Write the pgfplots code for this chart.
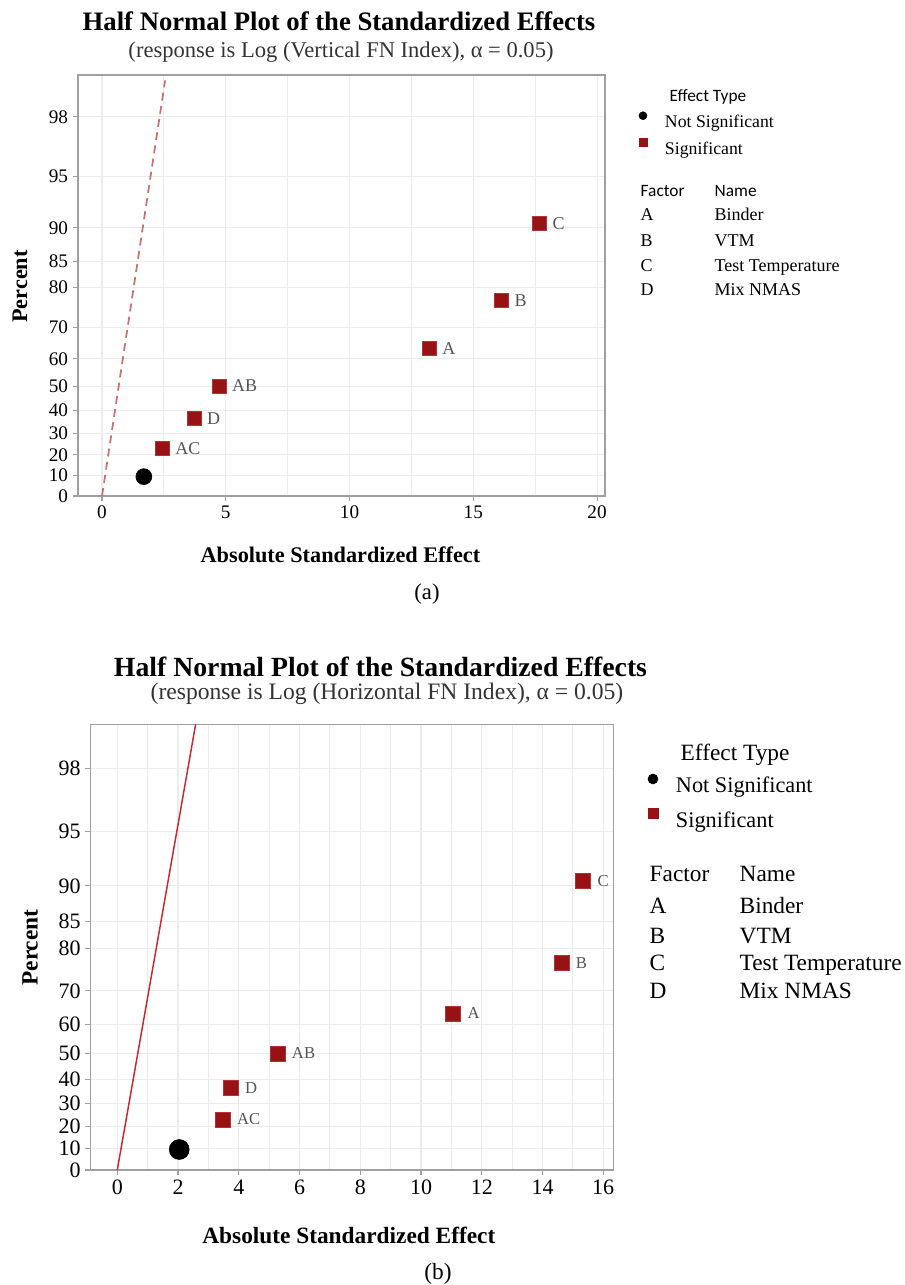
\documentclass[border=0pt]{standalone}
\usepackage{pgfplots}
\usepackage{pgfplotstable}
\pgfplotsset{compat=1.18}
\usepackage{fontspec}
\setmainfont{Liberation Serif}
\newfontfamily\sansf{Carlito}
\newcommand{\fs}[1]{\fontsize{#1}{#1}\selectfont}
\definecolor{sigred}{RGB}{150,18,20}
\definecolor{sigedge}{RGB}{185,50,50}
\definecolor{gridc}{RGB}{236,236,236}
\definecolor{boxc}{RGB}{160,160,160}
\definecolor{reflineA}{RGB}{205,110,110}
\definecolor{reflineB}{RGB}{200,40,45}
\definecolor{labc}{RGB}{85,85,85}

% top chart (a): x = |standardized effect|, y = half-normal score
\pgfplotstableread{
x y lab
2.44 0.2925 AC
3.72 0.4745 D
4.73 0.6745 AB
13.22 0.9063 A
16.14 1.2006 B
17.68 1.6720 C
}\sigA
\pgfplotstableread{
x y
1.69 0.1188
}\nsA
% bottom chart (b)
\pgfplotstableread{
x y lab
3.47 0.2925 AC
3.74 0.4745 D
5.28 0.6745 AB
11.06 0.9063 A
14.63 1.2006 B
15.34 1.6720 C
}\sigB
\pgfplotstableread{
x y
2.04 0.1188
}\nsB

\pgfplotsset{hn/.style={
  scale only axis,
  axis line style={boxc, line width=1.1pt},
  tick align=outside, tick pos=left,
  major tick length=4pt, minor tick length=0pt,
  every tick/.style={boxc, line width=0.8pt},
  grid=both,
  major grid style={gridc, line width=0.8pt},
  minor grid style={gridc, line width=0.8pt},
  ymin=0, ymax=2.583,
  ytick={0,0.1257,0.2533,0.3853,0.5244,0.6745,0.8416,1.0364,1.2816,1.4395,1.6449,1.9600,2.3263},
  yticklabels={0,10,20,30,40,50,60,70,80,85,90,95,98},
  /pgf/number format/assume math mode=true,
  legend cell align=left,
}}

\begin{document}
\begin{tikzpicture}
\path[use as bounding box] (0pt,0pt) rectangle (678.75pt,-963.75pt);

% ---------------- (a) ----------------
\begin{axis}[hn,
  at={(58.5pt,-372pt)}, anchor=south west,
  width=395.25pt, height=315.75pt,
  xmin=-0.97, xmax=20.32,
  xtick={0,5,10,15,20}, minor x tick num=1,
  tick label style={font=\fs{14.4}},
  xlabel={Absolute Standardized Effect},
  ylabel={Percent},
  label style={font=\fs{16.7}\bfseries},
  xlabel style={at={(axis description cs:0.498,-0.159)}, anchor=base},
  ylabel style={at={(axis description cs:-0.110,0.4976)}, anchor=center},
  legend style={at={(axis description cs:1.0645,0.9128)}, anchor=north west,
    draw=none, fill=none, inner sep=0pt, outer sep=0pt,
    column sep=13.5pt, row sep=5.75pt,
    nodes={inner sep=0pt, text height=10pt, text depth=3pt},
    font=\fs{13.3}},
  legend image code/.code={\draw[#1] plot coordinates {(0pt,5pt)};},
]
\addplot[reflineA, line width=1.3pt, dash pattern=on 6pt off 4pt, forget plot] coordinates {(0,0) (2.55,2.55)};
\addplot[only marks, mark=*, mark size=6pt, black, forget plot] table[x=x,y=y] {\nsA};
\addplot[only marks, mark=square*, mark size=5.25pt, mark options={fill=sigred, draw=sigedge, line width=0.5pt},
  nodes near coords, point meta=explicit symbolic,
  every node near coord/.append style={anchor=west, xshift=9.5pt, inner sep=0pt, font=\fs{13.5}, text=labc},
  forget plot] table[x=x,y=y,meta=lab] {\sigA};
\addlegendimage{only marks, mark=*, mark size=3pt, black}
\addlegendentry{Not Significant}
\addlegendimage{only marks, mark=square*, mark size=3pt, sigred}
\addlegendentry{Significant}
\end{axis}

% ---------------- (b) ----------------
\begin{axis}[hn,
  at={(68pt,-877.5pt)}, anchor=south west,
  width=391.95pt, height=334.3pt,
  xmin=-0.876, xmax=16.33, ymax=2.58,
  xtick={0,2,4,6,8,10,12,14,16}, minor x tick num=1,
  tick label style={font=\fs{16.5}},
  xlabel={Absolute Standardized Effect},
  ylabel={Percent},
  label style={font=\fs{17.5}\bfseries},
  xlabel style={at={(axis description cs:0.494,-0.1638)}, anchor=base},
  ylabel style={at={(axis description cs:-0.116,0.499)}, anchor=center},
  legend style={at={(axis description cs:1.0664,0.8885)}, anchor=north west,
    draw=none, fill=none, inner sep=0pt, outer sep=0pt,
    column sep=13.5pt, row sep=7.8pt,
    nodes={inner sep=0pt, text height=12pt, text depth=4pt},
    font=\fs{16.7}},
  legend image code/.code={\draw[#1] plot coordinates {(0pt,6.5pt)};},
]
\addplot[reflineB, line width=1.1pt, forget plot] coordinates {(0,0) (2.58,2.58)};
\addplot[only marks, mark=*, mark size=7.5pt, black, forget plot] table[x=x,y=y] {\nsB};
\addplot[only marks, mark=square*, mark size=5.6pt, mark options={fill=sigred, draw=sigedge, line width=0.5pt},
  nodes near coords, point meta=explicit symbolic,
  every node near coord/.append style={anchor=west, xshift=10.5pt, inner sep=0pt, font=\fs{12.5}, text=labc},
  forget plot] table[x=x,y=y,meta=lab] {\sigB};
\addlegendimage{only marks, mark=*, mark size=3.75pt, black}
\addlegendentry{Not Significant}
\addlegendimage{only marks, mark=square*, mark size=3.75pt, sigred}
\addlegendentry{Significant}
\end{axis}

% ---------------- texts (pixel grid, y downward) ----------------
\begin{scope}[x=0.75pt, y=-0.75pt]
% (a)
\node[anchor=base, font=\fs{20}\bfseries] at (339,30) {Half Normal Plot of the Standardized Effects};
\node[anchor=base, font=\fs{16.9}, text=black!80] at (341,57) {(response is Log (Vertical FN Index), α = 0.05)};
\node[anchor=base west, font=\sansf\fs{13}] at (665,101) {Effect Type};
\node[anchor=base west, font=\sansf\fs{13}] at (636,196.7) {Factor};
\node[anchor=base west, font=\sansf\fs{13}] at (710,196.7) {Name};
\begin{scope}[every node/.style={anchor=base west, font=\fs{13.5}}]
\node at (636,220) {A};   \node at (710,220) {Binder};
\node at (636,246.5) {B}; \node at (710,246.5) {VTM};
\node at (636,271.7) {C}; \node at (710,271.7) {Test Temperature};
\node at (636,295.5) {D}; \node at (710,295.5) {Mix NMAS};
\end{scope}
\node[anchor=base, font=\fs{17}] at (427,599) {(a)};
% (b)
\node[anchor=base, font=\fs{20.8}\bfseries] at (380.5,676) {Half Normal Plot of the Standardized Effects};
\node[anchor=base, font=\fs{17.7}, text=black!80] at (387,699) {(response is Log (Horizontal FN Index), α = 0.05)};
\begin{scope}[every node/.style={anchor=base west, font=\fs{17.5}}]
\node at (676,760) {Effect Type};
\node at (645,881.7) {Factor}; \node at (735,881.7) {Name};
\node at (645,913.3) {A}; \node at (735,913.3) {Binder};
\node at (645,943.3) {B}; \node at (735,943.3) {VTM};
\node at (645,970) {C};   \node at (735,970) {Test Temperature};
\node at (645,998.5) {D}; \node at (735,998.5) {Mix NMAS};
\end{scope}
\node[anchor=base, font=\fs{17.5}] at (438,1279) {(b)};
\end{scope}
\end{tikzpicture}
\end{document}
